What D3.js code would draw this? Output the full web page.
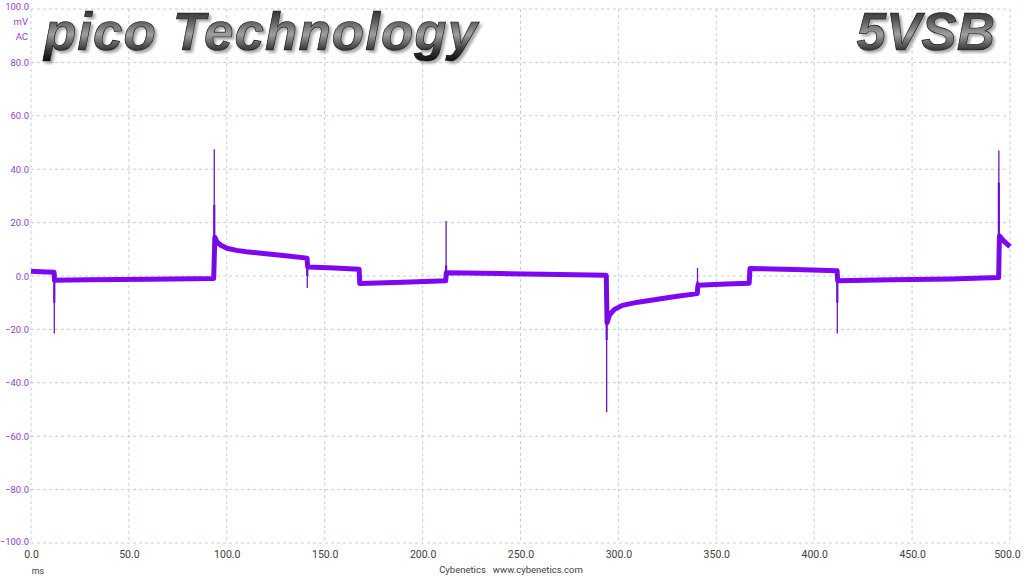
<!DOCTYPE html>
<html>
<head>
<meta charset="utf-8">
<script src="https://cdn.jsdelivr.net/npm/d3@7"></script>
<style>
  html, body { margin: 0; padding: 0; background: #ffffff; }
  svg { display: block; }
</style>
</head>
<body>
<svg id="chart" width="1024" height="576"></svg>
<script>
// ---- data ----
const xTicks = [0, 50, 100, 150, 200, 250, 300, 350, 400, 450, 500];
const yTicks = [100, 80, 60, 40, 20, 0, -20, -40, -60, -80, -100];

// band centre of the ripple trace (time ms, value mV)
const traceTime = [0, 5, 11.8, 12.0, 30, 60, 93.3, 93.9, 95, 97, 100, 105, 110, 120, 130, 141.0,
  141.3, 155, 167.6, 167.9, 190, 211.8, 212.1, 240, 270, 293.8, 294.2, 295.5, 298, 302, 310, 320,
  330, 340.3, 340.6, 355, 366.8, 367.2, 390, 411.7, 412.0, 440, 470, 494.2, 494.6, 497, 500];
const traceValue = [1.8, 1.6, 1.4, -1.6, -1.4, -1.2, -0.9, 14.5, 12.8, 11.5, 10.4, 9.6, 9.1, 8.3, 7.6, 6.7,
  3.4, 3.0, 2.5, -2.8, -2.3, -1.8, 1.2, 0.9, 0.6, 0.3, -17.5, -14.5, -12.5, -11.0, -9.8, -8.7,
  -7.6, -6.6, -3.5, -3.0, -2.7, 2.8, 2.4, 2.0, -1.8, -1.4, -1.1, -0.6, 15.0, 13.0, 11.0];

// narrow transient spikes
const spikeTime  = [11.9, 93.6, 141.1, 212.0, 294.0, 340.4, 411.8, 494.3];
const spikeBase  = [1.0, 0.0, 5.0, -1.0, 0.0, -5.0, 1.0, 0.0];
const spikeInner = [-10.0, 26.6, 0.0, 4.0, -24.0, -2.0, -10.0, 35.0];
const spikePeak  = [-21.5, 47.5, -4.5, 20.6, -51.0, 3.0, -21.5, 47.0];

// ---- drawing ----
const svg = d3.select('#chart');
const x = d3.scaleLinear().domain([0, 500]).range([31, 1010]);
const y = d3.scaleLinear().domain([-100, 100]).range([543, 9]);

const gridColor = '#b9d3da';
const labelPurple = '#8f3fd0';
const labelFont = 'Roboto, "Open Sans", "DejaVu Sans", sans-serif';

// grid
const grid = svg.append('g');
grid.selectAll('line.v').data(xTicks).join('line')
  .attr('x1', d => x(d)).attr('x2', d => x(d))
  .attr('y1', y(100)).attr('y2', y(-100))
  .attr('stroke', gridColor).attr('stroke-width', 1).attr('stroke-dasharray', '3,3');
grid.selectAll('line.h').data(yTicks).join('line')
  .attr('x1', x(0)).attr('x2', x(500))
  .attr('y1', d => y(d)).attr('y2', d => y(d))
  .attr('stroke', gridColor).attr('stroke-width', 1).attr('stroke-dasharray', '3,3');

// y axis labels
const yAxis = d3.axisLeft(y).tickValues(yTicks).tickSize(0).tickPadding(1)
  .tickFormat(d => d3.format('.1f')(d));
const yg = svg.append('g').attr('transform', `translate(${x(0) - 1},0)`).call(yAxis);
yg.select('.domain').remove();
yg.selectAll('text').attr('fill', labelPurple)
  .style('font-family', labelFont).style('font-size', '9.5px');
yg.selectAll('.tick').filter(d => d === 100).select('text').attr('dy', '0.1em');
yg.selectAll('.tick').filter(d => d === -100).select('text').attr('dy', '0.2em');

svg.append('text').attr('x', 28).attr('y', 25).attr('text-anchor', 'end')
  .attr('fill', labelPurple).style('font-family', labelFont)
  .style('font-size', '9.5px').text('mV');
svg.append('text').attr('x', 28).attr('y', 40).attr('text-anchor', 'end')
  .attr('fill', labelPurple).style('font-family', labelFont)
  .style('font-size', '9.5px').text('AC');

// x axis labels
const xAxis = d3.axisBottom(x).tickValues(xTicks).tickSize(0).tickPadding(8)
  .tickFormat(d => d3.format('.1f')(d));
const xg = svg.append('g').attr('transform', `translate(0,${y(-100)})`).call(xAxis);
xg.select('.domain').remove();
xg.selectAll('text').attr('fill', '#404040')
  .style('font-family', labelFont).style('font-size', '10.5px');
xg.selectAll('.tick').filter(d => d === 500).select('text').attr('dx', '-0.3em');

svg.append('text').attr('x', 38).attr('y', 574).attr('text-anchor', 'middle')
  .attr('fill', '#404040').style('font-family', labelFont)
  .style('font-size', '9px').text('ms');
svg.append('text').attr('x', 511).attr('y', 573).attr('text-anchor', 'middle')
  .attr('fill', '#404040').style('font-family', labelFont)
  .style('font-size', '9.5px').attr('xml:space', 'preserve').text('Cybenetics   www.cybenetics.com');

// trace band
const traceData = traceTime.map((t, i) => [t, traceValue[i]]);
const line = d3.line().x(d => x(d[0])).y(d => y(d[1]));
svg.append('path').datum(traceData)
  .attr('d', line).attr('fill', 'none')
  .attr('stroke', '#7f06f5').attr('stroke-width', 5)
  .attr('stroke-linejoin', 'round').attr('stroke-linecap', 'butt');

// spikes
const spikes = spikeTime.map((t, i) => ({t, b: spikeBase[i], m: spikeInner[i], p: spikePeak[i]}));
svg.append('g').selectAll('line').data(spikes).join('line')
  .attr('x1', d => x(d.t)).attr('x2', d => x(d.t))
  .attr('y1', d => y(d.b)).attr('y2', d => y(d.m))
  .attr('stroke', '#7308e0').attr('stroke-width', 2.2);
svg.append('g').selectAll('line').data(spikes).join('line')
  .attr('x1', d => x(d.t)).attr('x2', d => x(d.t))
  .attr('y1', d => y(d.b)).attr('y2', d => y(d.p))
  .attr('stroke', '#6a16c8').attr('stroke-width', 1.3);

// titles
const defs = svg.append('defs');
const grad = defs.append('linearGradient').attr('id', 'tgrad')
  .attr('x1', 0).attr('y1', 0).attr('x2', 0).attr('y2', 1);
grad.append('stop').attr('offset', '0%').attr('stop-color', '#151515');
grad.append('stop').attr('offset', '30%').attr('stop-color', '#555');
grad.append('stop').attr('offset', '55%').attr('stop-color', '#a0a0a0');
grad.append('stop').attr('offset', '80%').attr('stop-color', '#3a3a3a');
grad.append('stop').attr('offset', '100%').attr('stop-color', '#0d0d0d');
const filt = defs.append('filter').attr('id', 'tshadow')
  .attr('x', '-5%').attr('y', '-10%').attr('width', '115%').attr('height', '130%');
filt.append('feDropShadow').attr('dx', 2.5).attr('dy', 2.5).attr('stdDeviation', 0.8)
  .attr('flood-color', '#888').attr('flood-opacity', 0.7);

function title(txt, xx, anchor, spacing) {
  svg.append('text').attr('x', xx).attr('y', 50).attr('text-anchor', anchor)
    .attr('fill', 'url(#tgrad)').attr('stroke', '#111').attr('stroke-width', 0.7)
    .attr('filter', 'url(#tshadow)')
    .style('letter-spacing', spacing + 'px')
    .style('font-family', '"Liberation Sans", Arial, sans-serif')
    .style('font-weight', 'bold').style('font-style', 'italic').style('font-size', '53px')
    .text(txt);
}
title('pico Technology', 44, 'start', 1.0);
title('5VSB', 995, 'end', 0);
</script>
</body>
</html>
